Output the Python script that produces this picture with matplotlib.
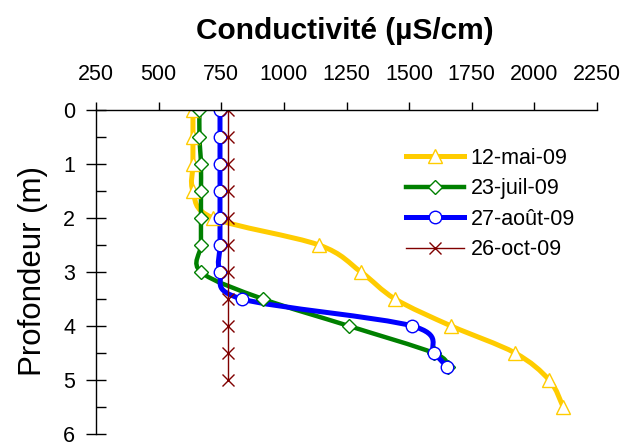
import numpy as np
import matplotlib
matplotlib.use('Agg')
import matplotlib.pyplot as plt
from matplotlib.path import Path
from matplotlib.patches import PathPatch
from matplotlib.lines import Line2D
from matplotlib.ticker import MultipleLocator

plt.rcParams['font.family'] = ['Liberation Sans', 'DejaVu Sans']

# depth (m) and conductivity (uS/cm) per sampling date
depth_mai = [0, 0.5, 1, 1.5, 2, 2.5, 3, 3.5, 4, 4.5, 5, 5.5]
cond_mai = [637, 637, 637, 637, 717, 1140, 1308, 1444, 1668, 1923, 2059, 2115]

depth_juil = [0, 0.5, 1, 1.5, 2, 2.5, 3, 3.5, 4, 4.5, 4.75]
cond_juil = [663, 663, 669, 669, 669, 669, 669, 917, 1260, 1598, 1656]

depth_aout = [0, 0.5, 1, 1.5, 2, 2.5, 3, 3.5, 4, 4.5, 4.75]
cond_aout = [745, 745, 745, 745, 745, 745, 745, 833, 1512, 1600, 1652]

depth_oct = [0, 0.5, 1, 1.5, 2, 2.5, 3, 3.5, 4, 4.5, 5]
cond_oct = [775, 775, 775, 775, 775, 775, 775, 775, 775, 775, 775]

labels = ['12-mai-09', '23-juil-09', '27-août-09', '26-oct-09']


def smooth_path(x, y):
    """Excel-like smoothed line (Catmull-Rom as cubic Bezier)."""
    pts = np.column_stack([x, y]).astype(float)
    n = len(pts)
    verts = [pts[0]]
    codes = [Path.MOVETO]
    for i in range(n - 1):
        p0 = pts[i - 1] if i > 0 else pts[i]
        p1 = pts[i]
        p2 = pts[i + 1]
        p3 = pts[i + 2] if i + 2 < n else pts[i + 1]
        c1 = p1 + (p2 - p0) / 6.0
        c2 = p2 - (p3 - p1) / 6.0
        verts += [c1, c2, p2]
        codes += [Path.CURVE4] * 3
    return Path(verts, codes)


fig = plt.figure(figsize=(6.26, 4.42), dpi=100)
ax = fig.add_axes([96 / 626, 1 - 434 / 442, 501 / 626, 324 / 442])

series = [
    (cond_mai, depth_mai, '#FFCC00', 3.6, '^', 10, True),
    (cond_juil, depth_juil, '#008000', 3.2, 'D', 7.5, True),
    (cond_aout, depth_aout, '#0000FF', 3.6, 'o', 9, True),
    (cond_oct, depth_oct, '#800000', 1.0, 'x', 9, False),
]

handles = []
for (x, y, c, lw, m, ms, smooth), lab in zip(series, labels):
    if smooth:
        ax.add_patch(PathPatch(smooth_path(x, y), fill=False, edgecolor=c,
                               lw=lw, capstyle='round', joinstyle='round'))
        ax.plot(x, y, ls='none', marker=m, ms=ms, mfc='white', mec=c, mew=1.0)
    else:
        ax.plot(x, y, color=c, lw=lw, marker=m, ms=ms, mec=c, mew=1.0)
    handles.append(Line2D([], [], color=c, lw=lw, marker=m, ms=ms,
                          mfc='white', mec=c, mew=1.0))

ax.set_xlim(250, 2250)
ax.set_ylim(6, 0)
ax.xaxis.set_major_locator(MultipleLocator(250))
ax.yaxis.set_major_locator(MultipleLocator(1))
ax.yaxis.set_minor_locator(MultipleLocator(0.5))
ax.xaxis.tick_top()
ax.xaxis.set_label_position('top')

for s in ['right', 'bottom']:
    ax.spines[s].set_visible(False)
for s in ['left', 'top']:
    ax.spines[s].set_linewidth(1.0)

ax.tick_params(axis='x', which='major', direction='out', length=6, width=1,
               pad=12, labelsize=15.5)
ax.tick_params(axis='y', which='major', direction='inout', length=14, width=1,
               pad=8, labelsize=15.5)
ax.tick_params(axis='y', which='minor', direction='in', length=7, width=1)

fig.text(345 / 626, 1 - 31 / 442, 'Conductivité (µS/cm)', ha='center',
         va='center', fontsize=21.5, fontweight='bold')
fig.text(33 / 626, 1 - 271 / 442, 'Profondeur (m)', ha='center',
         va='center', rotation=90, fontsize=22.5)

fig.legend(handles, labels, loc='upper left',
           bbox_to_anchor=(406 / 626, 1 - 148 / 442), frameon=False,
           fontsize=15.5, handlelength=2.7, handletextpad=0.3,
           labelspacing=0.44, borderpad=0, borderaxespad=0)

fig.savefig('out.png', dpi=100)
